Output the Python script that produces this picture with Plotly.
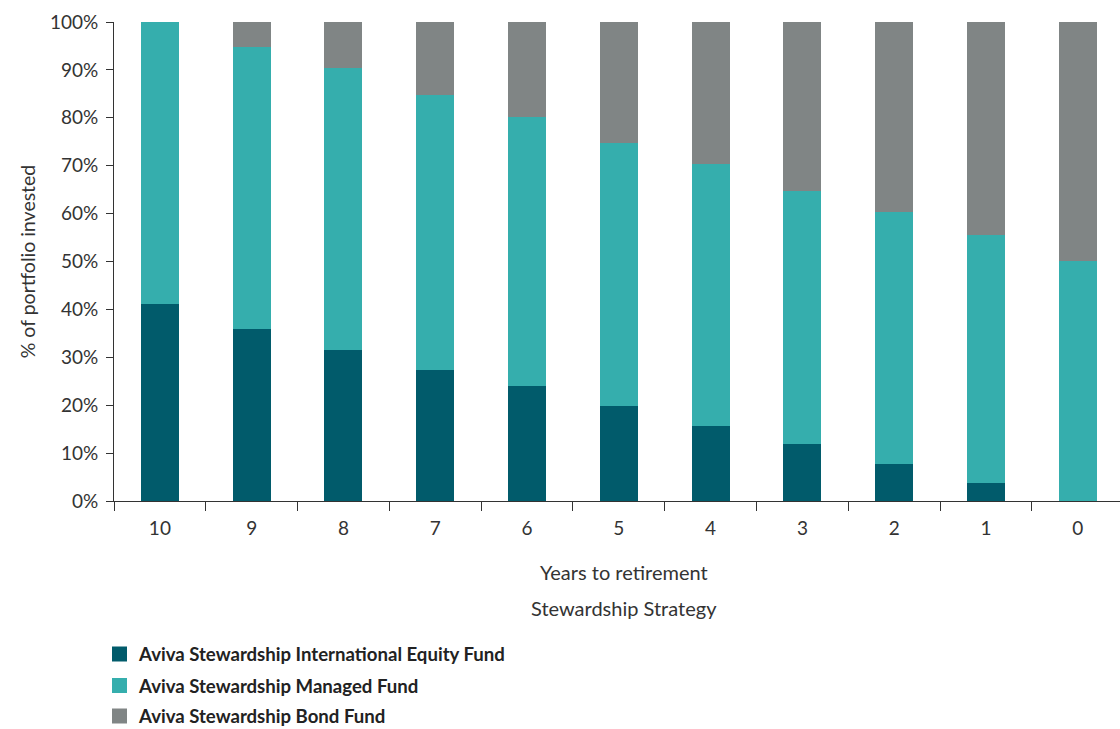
import plotly.graph_objects as go

years = ["10", "9", "8", "7", "6", "5", "4", "3", "2", "1", "0"]
equity = [41.1, 35.9, 31.5, 27.3, 24.1, 19.9, 15.7, 11.9, 7.8, 3.8, 0.0]
managed = [58.9, 58.9, 59.0, 57.5, 56.1, 54.8, 54.7, 52.8, 52.6, 51.7, 50.1]
bond = [0.0, 5.2, 9.5, 15.2, 19.8, 25.3, 29.6, 35.3, 39.6, 44.5, 49.9]
pct_ticks = [0, 10, 20, 30, 40, 50, 60, 70, 80, 90, 100]
pct_labels = [f"{v}%" for v in pct_ticks]

series_names = [
    "Aviva Stewardship International Equity Fund",
    "Aviva Stewardship Managed Fund",
    "Aviva Stewardship Bond Fund",
]
colors = ["#015b6b", "#35aead", "#808585"]

FONT = "Lato, 'Source Sans Pro', sans-serif"
TXT = "#333333"
FS = 19

W, H = 1120, 729
ML, MR, MT, MB = 114, 0, 22, 228
PW, PH = W - ML - MR, H - MT - MB


def px_x(px):
    return (px - ML) / PW


def px_y(py):
    return (H - MB - py) / PH


fig = go.Figure()
for name, vals, col in zip(series_names, [equity, managed, bond], colors):
    fig.add_trace(go.Bar(
        x=years, y=vals, name=name, marker_color=col,
        marker_line_width=0, hoverinfo="skip", showlegend=False,
    ))

annotations = [
    dict(text="Years to retirement", xref="paper", yref="paper", x=0.507, y=0,
         xanchor="center", yanchor="middle", yshift=-71, showarrow=False,
         font=dict(size=20, color=TXT)),
    dict(text="Stewardship Strategy", xref="paper", yref="paper", x=0.507, y=0,
         xanchor="center", yanchor="middle", yshift=-107, showarrow=False,
         font=dict(size=20, color=TXT)),
]
shapes = []
legend_rows = [654, 685.5, 716]
for name, col, cy in zip(series_names, colors, legend_rows):
    shapes.append(dict(type="rect", xref="paper", yref="paper",
                       x0=px_x(112), x1=px_x(127), y0=px_y(cy + 7.5), y1=px_y(cy - 7.5),
                       fillcolor=col, line=dict(width=0), layer="above"))
    annotations.append(dict(text=f"<b>{name}</b>", xref="paper", yref="paper",
                            x=px_x(137), y=px_y(cy), xanchor="left", yanchor="middle",
                            showarrow=False, borderpad=0,
                            font=dict(family=FONT, size=18.6, color="#222222")))

fig.update_layout(
    template="none",
    width=W, height=H, autosize=False,
    margin=dict(l=ML, r=MR, t=MT, b=MB, autoexpand=False),
    paper_bgcolor="white", plot_bgcolor="white",
    barmode="stack", bargap=0.586,
    font=dict(family=FONT, size=FS, color=TXT),
    showlegend=False,
    xaxis=dict(
        type="category", range=[-0.5, 10.46], automargin=False,
        showline=True, linecolor="#333333", linewidth=1,
        ticks="outside", tickson="boundaries", ticklen=9, tickcolor="#333333",
        ticklabelstandoff=10,
        showgrid=False, zeroline=False,
        tickfont=dict(size=FS, color=TXT),
    ),
    yaxis=dict(
        range=[0, 100], tickmode="array", tickvals=pct_ticks, ticktext=pct_labels,
        automargin=False,
        showline=True, linecolor="#333333", linewidth=1,
        ticks="outside", ticklen=7, tickcolor="#333333",
        ticklabelstandoff=4,
        showgrid=False, zeroline=False,
        tickfont=dict(size=FS, color=TXT),
        title=dict(text="% of portfolio invested", font=dict(size=19.5, color=TXT), standoff=9),
    ),
    annotations=annotations,
    shapes=shapes,
)

fig.write_html("out.html", config={"displayModeBar": False})
